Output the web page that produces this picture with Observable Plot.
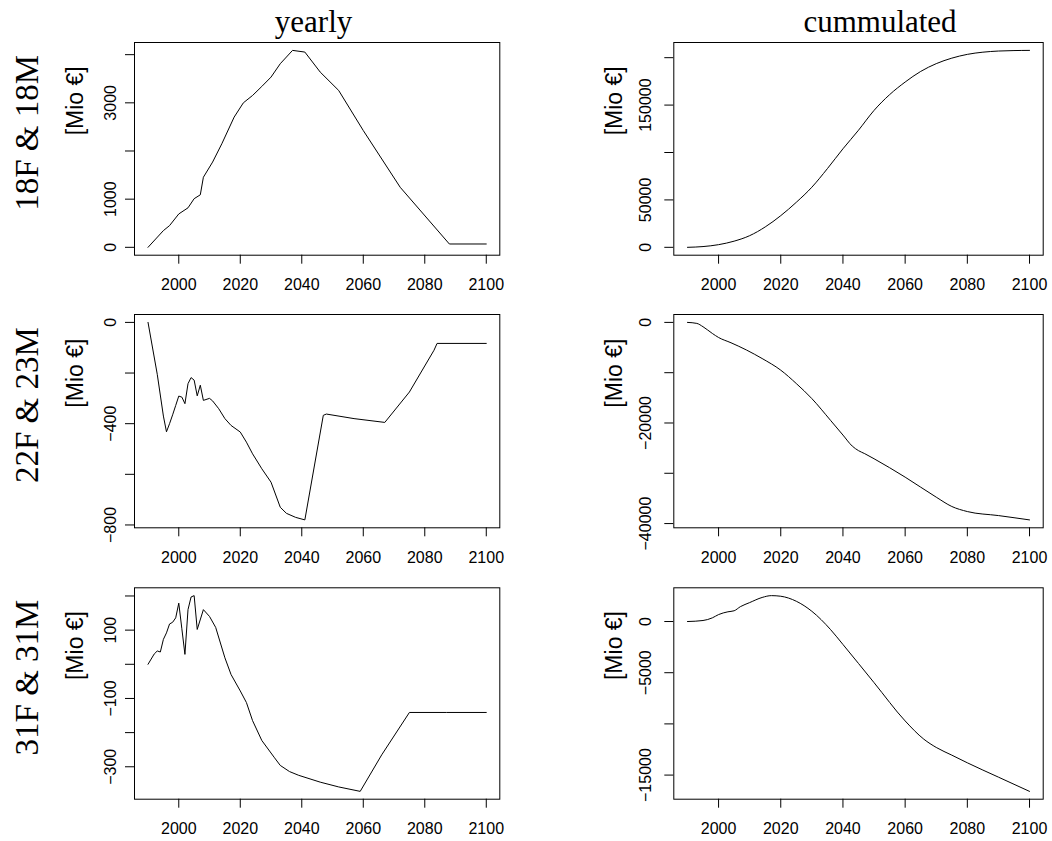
<!DOCTYPE html>
<html><head><meta charset="utf-8">
<script src="https://cdn.jsdelivr.net/npm/d3@7"></script>
<script src="https://cdn.jsdelivr.net/npm/@observablehq/plot@0.6"></script>
<style>
html,body{margin:0;padding:0;background:#fff;}
#chart{position:relative;width:1052px;height:841px;background:#fff;overflow:hidden;}
#chart svg{position:absolute;max-width:none;}
</style></head><body><div id="chart"></div>
<script>
// ---- texts ----
const colTitles = ["yearly", "cummulated"];
const rowLabels = ["18F & 18M", "22F & 23M", "31F & 31M"];
const yLabel = "[Mio €]";
const xTicks = [2000, 2020, 2040, 2060, 2080, 2100];

// ---- 18F & 18M yearly ----
const y18Years  = [1990,1995,1997,2000,2003,2005,2007,2008,2011,2014,2018,2021,2024,2027,2030,2033,2037,2041,2046,2052,2060,2072,2088,2100];
const y18Values = [0,347,451,693,820,1010,1090,1455,1770,2150,2703,3000,3153,3340,3534,3812,4089,4054,3638,3257,2425,1247,69,69];
const y18Ticks = [0,1000,2000,3000,4000];
const y18TickLabels = ["0","1000","","3000",""];

// ---- 18F & 18M cumulated ----
const c18Years  = [1990,1995,2000,2005,2010,2015,2020,2025,2030,2035,2040,2045,2050,2055,2060,2065,2070,2075,2080,2085,2090,2095,2100];
const c18Values = [0,800,2800,6500,12300,21500,33400,47500,63400,83000,103900,123500,144400,161000,174300,185500,193700,199500,203500,205800,207000,207500,207700];
const c18Ticks = [0,50000,100000,150000,200000];
const c18TickLabels = ["0","50000","","150000",""];

// ---- 22F & 23M yearly ----
const y22Years  = [1990,1993,1995,1996,1997,1998,1999,2000,2001,2002,2003,2004,2005,2006,2007,2008,2010,2011,2013,2015,2017,2020,2022,2024,2027,2030,2033,2035,2038,2041,2047,2048,2057,2067,2075,2083,2084,2100];
const y22Values = [0,-205,-370,-432,-400,-365,-328,-291,-295,-321,-242,-218,-228,-290,-248,-308,-300,-310,-341,-380,-407,-433,-473,-519,-578,-631,-730,-754,-770,-780,-367,-362,-380,-395,-275,-110,-83,-83];
const y22Ticks = [0,-200,-400,-600,-800];
const y22TickLabels = ["0","","\u2212400","","\u2212800"];

// ---- 22F & 23M cumulated ----
const c22Years  = [1990,1993,1995,1998,2000,2004,2009,2014,2020,2025,2030,2036,2040,2043,2045,2047,2050,2060,2070,2075,2080,2090,2100];
const c22Values = [0,-200,-860,-2200,-3000,-4050,-5500,-7180,-9500,-12160,-15150,-19470,-22400,-24600,-25500,-26100,-27110,-30770,-34750,-36600,-37610,-38410,-39270];
const c22Ticks = [0,-10000,-20000,-30000,-40000];
const c22TickLabels = ["0","","\u221220000","","\u221240000"];

// ---- 31F & 31M yearly ----
const y31Years  = [1990,1992,1993,1994,1995,1996,1997,1998,1999,2000,2001,2002,2003,2004,2005,2006,2008,2010,2012,2015,2017,2020,2022,2024,2027,2031,2033,2036,2039,2046,2052,2059,2066,2075,2087,2100];
const y31Values = [0,30,39,36,73,92,118,123,136,179,104,29,160,197,201,102,160,140,108,19,-30,-78,-112,-165,-223,-272,-296,-314,-325,-345,-359,-372,-265,-141,-141,-141];
const y31Ticks = [200,100,0,-100,-200,-300];
const y31TickLabels = ["","100","","\u2212100","","\u2212300"];

// ---- 31F & 31M cumulated ----
const c31Years  = [1990,1995,1998,2000,2003,2005,2007,2010,2014,2017,2020,2025,2030,2036,2040,2050,2060,2066,2070,2075,2080,2090,2100];
const c31Values = [0,100,360,680,950,1050,1450,1850,2350,2530,2470,1980,1000,-780,-2240,-5970,-9710,-11490,-12300,-13050,-13800,-15200,-16590];
const c31Ticks = [0,-5000,-10000,-15000];
const c31TickLabels = ["0","\u22125000","","\u221215000"];

const panels = [
  {years:y18Years, values:y18Values, ticks:y18Ticks, labels:y18TickLabels, row:0, col:0, curve:"linear"},
  {years:c18Years, values:c18Values, ticks:c18Ticks, labels:c18TickLabels, row:0, col:1, curve:"monotone-x"},
  {years:y22Years, values:y22Values, ticks:y22Ticks, labels:y22TickLabels, row:1, col:0, curve:"linear"},
  {years:c22Years, values:c22Values, ticks:c22Ticks, labels:c22TickLabels, row:1, col:1, curve:"monotone-x"},
  {years:y31Years, values:y31Values, ticks:y31Ticks, labels:y31TickLabels, row:2, col:0, curve:"linear"},
  {years:c31Years, values:c31Values, ticks:c31Ticks, labels:c31TickLabels, row:2, col:1, curve:"monotone-x"}
];

// layout (pixels)
const rows = [
  {top:0,   h:300, frameTop:42,    frameBottom:254.7},
  {top:300, h:270, frameTop:314,   frameBottom:527.3},
  {top:570, h:271, frameTop:587.3, frameBottom:798.7}
];
const cols = [
  {left:0,   w:526, frameLeft:134,   frameRight:499.3,  tickPad:10, titleDx:-3.6},
  {left:526, w:526, frameLeft:673.3, frameRight:1042.7, tickPad:14, titleDx:21.5}
];

const pad = ([a, b]) => [a - (b - a) * 0.04, b + (b - a) * 0.04];
const root = document.getElementById("chart");

for (const p of panels) {
  const r = rows[p.row], c = cols[p.col];
  const data = p.years.map((yr, i) => ({year: yr, value: p.values[i]}));
  const labelMap = new Map(p.ticks.map((t, i) => [t, p.labels[i]]));
  const marks = [
    Plot.frame({stroke: "black", strokeWidth: 1}),
    Plot.line(data, {x: "year", y: "value", stroke: "black", strokeWidth: 1, curve: p.curve}),
    Plot.axisX({ticks: xTicks, tickSize: 9, tickPadding: 14.9, tickFormat: d => String(d), fontSize: 16, label: null}),
    Plot.axisY({ticks: p.ticks, tickSize: 9, tickPadding: c.tickPad, tickRotate: -90,
                tickFormat: d => labelMap.get(d) ?? "", fontSize: 16, label: null}),
    Plot.text([yLabel], {text: d => d, frameAnchor: "left", rotate: -90, dx: -52, dy: -48,
                fontSize: 23, lineAnchor: "bottom", textAnchor: "middle", fill: "black"})
  ];
  if (p.col === 0) {
    marks.push(Plot.text([rowLabels[p.row]], {text: d => d, frameAnchor: "left", rotate: -90, dx: -97, dy: -16,
      fontSize: 33, fontFamily: "Liberation Serif", lineAnchor: "bottom", textAnchor: "middle", fill: "black"}));
  }
  if (p.row === 0) {
    marks.push(Plot.text([colTitles[p.col]], {text: d => d, frameAnchor: "top", dx: c.titleDx, dy: -11,
      fontSize: 31, fontFamily: "Liberation Serif", lineAnchor: "bottom", textAnchor: "middle", fill: "black"}));
  }
  const svg = Plot.plot({
    width: c.w, height: r.h,
    marginLeft: c.frameLeft - c.left,
    marginRight: c.left + c.w - c.frameRight,
    marginTop: r.frameTop - r.top,
    marginBottom: r.top + r.h - r.frameBottom,
    x: {domain: pad(d3.extent(p.years)), label: null},
    y: {domain: pad(d3.extent(p.values)), label: null},
    style: {fontFamily: "Liberation Sans, Arial, sans-serif", fontSize: "16px", color: "black", background: "transparent", overflow: "visible"},
    marks
  });
  svg.style.left = c.left + "px";
  svg.style.top = r.top + "px";
  root.appendChild(svg);
}
</script>
</body></html>
